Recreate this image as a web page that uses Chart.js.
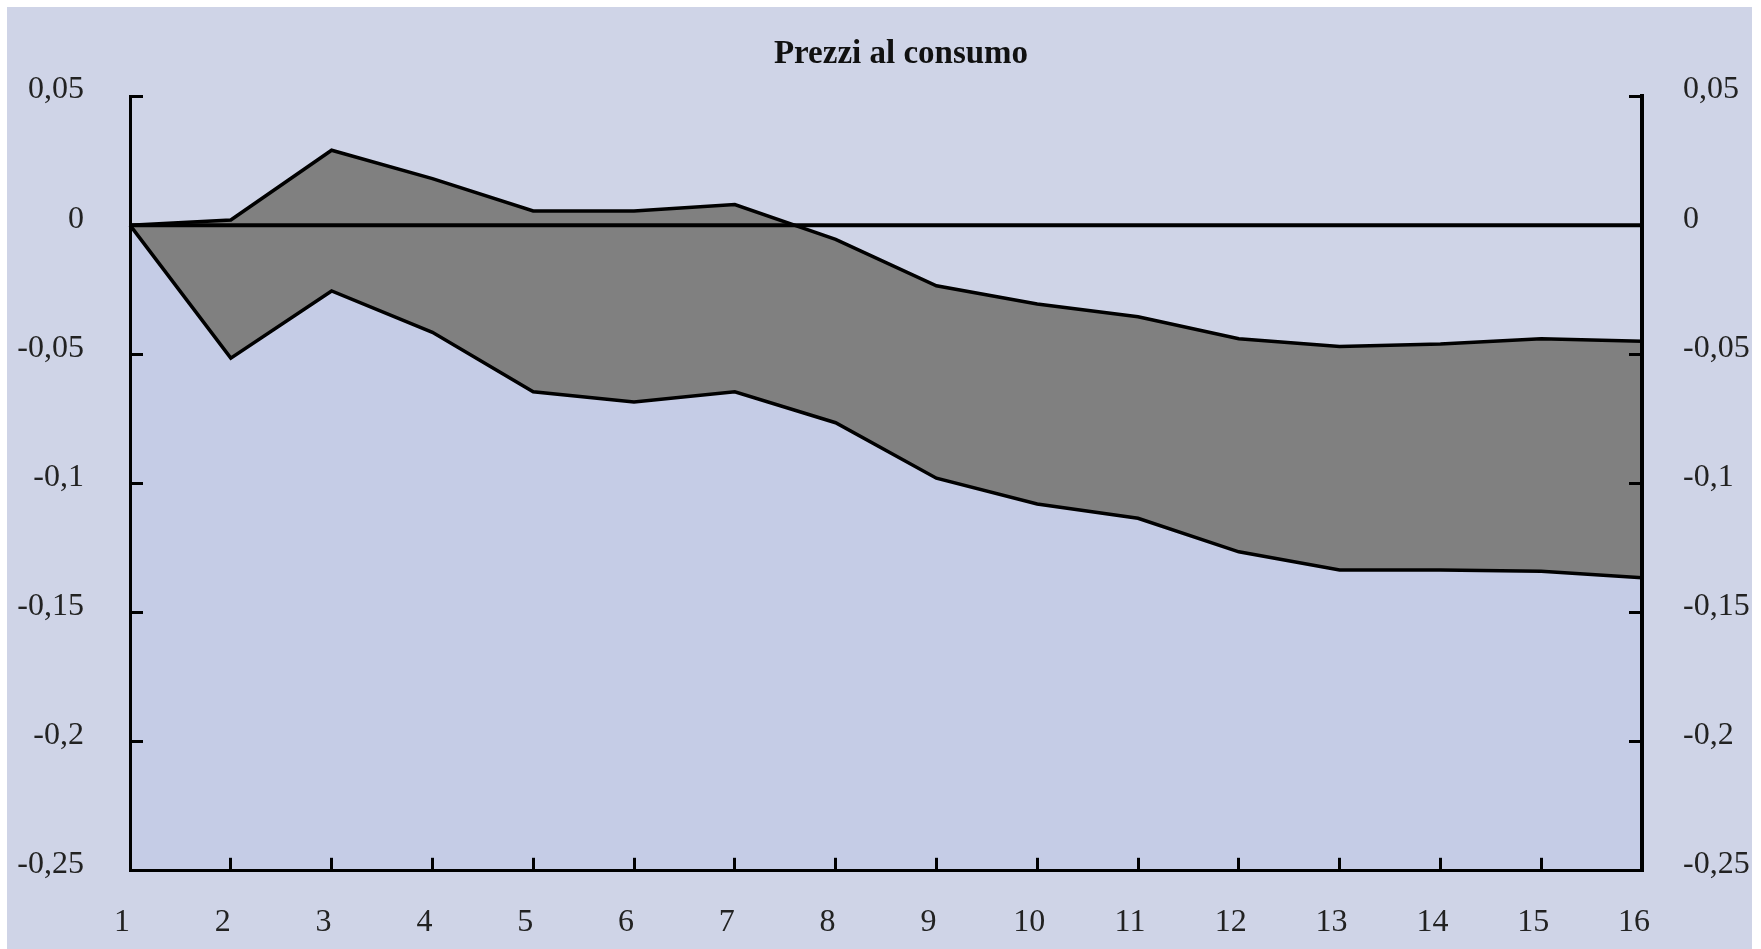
<!DOCTYPE html>
<html>
<head>
<meta charset="utf-8">
<title>Prezzi al consumo</title>
<script src="https://cdn.jsdelivr.net/npm/chart.js@4.4.1/dist/chart.umd.min.js"></script>
<style>
  html, body { margin: 0; padding: 0; background: #fff; }
  #wrap { width: 1761px; height: 949px; }
</style>
</head>
<body>
<div id="wrap"><canvas id="chart" width="1761" height="949"></canvas></div>
<script>
// periods on the x axis
const periods = ["1", "2", "3", "4", "5", "6", "7", "8", "9", "10", "11", "12", "13", "14", "15", "16"];

// upper / lower bound of the band
const upperBound = [0, 0.002, 0.029, 0.018, 0.0055, 0.0055, 0.008, -0.0055, -0.0235, -0.0305, -0.0355, -0.044, -0.047, -0.046, -0.044, -0.045];
const lowerBound = [0, -0.0515, -0.0255, -0.0415, -0.0645, -0.0685, -0.0645, -0.0765, -0.098, -0.108, -0.1135, -0.1265, -0.1335, -0.1335, -0.134, -0.1365];
const zeroLine = periods.map(() => 0);

const yTickValues = [0.05, 0, -0.05, -0.1, -0.15, -0.2, -0.25];
const yTickLabels = ["0,05", "0", "-0,05", "-0,1", "-0,15", "-0,2", "-0,25"];

const TITLE = "Prezzi al consumo";
const SERIF = "'Liberation Serif', 'Times New Roman', serif";
const BG = "#cfd4e7";
const BELOW = "#c5cce6";
const BAND = "#808080";

// white frame + lavender panel, title on top
const framePlugin = {
  id: "frame",
  beforeDraw(chart) {
    const { ctx, width, height } = chart;
    ctx.save();
    ctx.fillStyle = "#fff";
    ctx.fillRect(0, 0, width, height);
    ctx.fillStyle = BG;
    ctx.fillRect(7, 7, 1752 - 7, height - 7);
    ctx.restore();
  },
  afterDraw(chart) {
    const { ctx } = chart;
    ctx.save();
    ctx.font = "bold 33px " + SERIF;
    ctx.fillStyle = "#111";
    ctx.textAlign = "center";
    ctx.textBaseline = "alphabetic";
    ctx.fillText(TITLE, 901, 63);
    ctx.restore();
  },
};

const tickSet = (scale) => {
  scale.ticks = yTickValues.map((v) => ({ value: v }));
};

const yAxis = (position, width, padding, borderWidth) => ({
  type: "linear",
  position,
  min: -0.25,
  max: 0.05,
  afterBuildTicks: tickSet,
  afterFit: (s) => { s.width = width; },
  ticks: {
    color: "#222",
    font: { family: SERIF, size: 32 },
    padding,
    labelOffset: -6,
    callback: (v, i) => yTickLabels[i],
  },
  grid: {
    drawOnChartArea: false,
    drawTicks: true,
    tickLength: -13,
    color: "#000",
    lineWidth: 3,
    z: 1,
  },
  border: { display: true, color: "#000", width: borderWidth, z: 1 },
});

new Chart(document.getElementById("chart"), {
  type: "line",
  data: {
    labels: periods,
    datasets: [
      {
        label: "lower",
        data: lowerBound,
        borderColor: "#000",
        borderWidth: 3.5,
        backgroundColor: BELOW,
        fill: "start",
        pointRadius: 0,
        tension: 0,
        order: 2,
      },
      {
        label: "upper",
        data: upperBound,
        borderColor: "#000",
        borderWidth: 3.5,
        backgroundColor: BAND,
        fill: "-1",
        pointRadius: 0,
        tension: 0,
        order: 1,
      },
      {
        label: "zero",
        data: zeroLine,
        borderColor: "#000",
        borderWidth: 4,
        fill: false,
        pointRadius: 0,
        tension: 0,
        order: 0,
      },
    ],
  },
  options: {
    responsive: false,
    animation: false,
    layout: { padding: { top: 96, left: 0, right: 0, bottom: 0 } },
    plugins: {
      legend: { display: false },
      tooltip: { enabled: false },
      filler: { drawTime: "beforeDatasetsDraw" },
    },
    scales: {
      x: {
        type: "category",
        offset: false,
        afterFit: (s) => { s.height = 74; },
        ticks: {
          color: "#222",
          font: { family: SERIF, size: 32 },
          padding: 46,
          labelOffset: -8,
          maxRotation: 0,
          autoSkip: false,
        },
        grid: {
          drawOnChartArea: false,
          drawTicks: true,
          tickLength: -13,
          color: "#000",
          lineWidth: 3,
          z: 1,
        },
        border: { display: true, color: "#000", width: 3, z: 1 },
      },
      y: yAxis("left", 130, 59, 3),
      y2: yAxis("right", 119, 54, 4),
    },
  },
  plugins: [framePlugin],
});
</script>
</body>
</html>
